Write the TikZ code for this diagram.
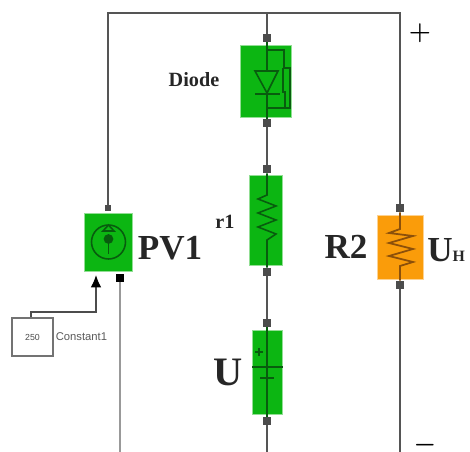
\documentclass[tikz,border=0pt]{standalone}
\usepackage{amsmath}
\usepackage{fontspec}
\setmainfont{Liberation Serif}
\newfontfamily\labelsans{Liberation Sans}
\usetikzlibrary{positioning,arrows.meta}

\definecolor{blockgreen}{RGB}{12,182,18}
\definecolor{blockorange}{RGB}{250,156,10}
\definecolor{edgegreen}{RGB}{8,92,14}
\definecolor{edgeorange}{RGB}{140,80,10}
\definecolor{wiregray}{RGB}{85,85,85}

\tikzset{
  wire/.style={draw=wiregray, line width=0.9pt},
  sigwire/.style={draw=black!70, line width=0.7pt},
  dataline/.style={draw=black!40, line width=1.1pt},
  port/.style={fill=black!70, inner sep=0pt, minimum size=4.5pt},
  greenblock/.style={fill=blockgreen, draw=blockgreen!45, line width=0.8pt, inner sep=0pt},
  orangeblock/.style={fill=blockorange, draw=blockorange!45, line width=0.8pt, inner sep=0pt},
  symb/.style={draw=edgegreen, line width=0.9pt},
  symbo/.style={draw=edgeorange, line width=1pt},
  biglabel/.style={font=\bfseries\fontsize{20}{20}\selectfont, text=black!85, inner sep=0pt},
  smalllabel/.style={font=\bfseries\fontsize{11.5}{12}\selectfont, text=black!85, inner sep=0pt}
}

\begin{document}
\begin{tikzpicture}[x=0.02cm, y=-0.02cm]
\useasboundingbox (0, 0) rectangle (470, 452);

\def\xl{108}
\def\xm{267}
\def\xr{400}
\def\yt{13}
\def\yb{452}

% blocks
\node[greenblock, minimum width=1.02cm, minimum height=1.44cm] (diode) at (266, 81.5) {};
\node[greenblock, minimum width=0.66cm, minimum height=1.8cm] (r1) at (266, 220.5) {};
\node[greenblock, minimum width=0.6cm, minimum height=1.68cm] (u) at (267.5, 372.5) {};
\node[orangeblock, minimum width=0.92cm, minimum height=1.28cm] (r2) at (400.5, 247.5) {};
\node[greenblock, minimum width=0.96cm, minimum height=1.16cm] (pv) at (108.5, 242.5) {};
\node[draw=black!55, line width=0.8pt, minimum width=0.82cm, minimum height=0.76cm, inner sep=0pt,
      font=\labelsans\fontsize{5}{5}\selectfont, text=black!70] (const) at (32.5, 337) {250};

% ports
\node[port] (pa) at (\xm, 38) {};
\node[port] (pb) at (\xm, 123) {};
\node[port] (pc) at (\xm, 169) {};
\node[port] (pd) at (\xm, 272) {};
\node[port] (pe) at (\xm, 323) {};
\node[port] (pf) at (\xm, 421) {};
\node[port] (pg) at (\xr, 208) {};
\node[port] (ph) at (\xr, 285) {};
\node[port, minimum size=3.5pt] (pi) at (\xl, 208) {};
\node[port, fill=black] (pj) at (120, 278) {};

% free ends and corners
\coordinate (tl) at (\xl, \yt);
\coordinate (tm) at (\xm, \yt);
\coordinate (tr) at (\xr, \yt);
\coordinate (bm) at (\xm, \yb);
\coordinate (br) at (\xr, \yb);
\coordinate (bd) at (120, \yb);
\coordinate (ca) at (31, 312);
\coordinate (cb) at (96, 312);
\coordinate (cc) at (96, 275);

% wires
\draw[wire] (pi.north) -- (tl) -- (tr) -- (pg.north);
\draw[wire] (tm) -- (pa);
\draw[wire] (pb) -- (pc);
\draw[wire] (pd) -- (pe);
\draw[wire] (pf) -- (bm);
\draw[wire] (ph) -- (br);
\draw[dataline] (pj) -- (bd);
\draw[sigwire, -{Latex[length=7pt,width=6pt,black]}] (const.north -| ca) -- (ca) -- (cb) -- (cc);

% diode symbol
\coordinate (da) at (\xm, 48);
\coordinate (db) at (\xm, 115);
\draw[symb] (pa) -- (da) -- (\xm, 71);
\draw[symb] (\xm, 93) -- (db) -- (pb);
\draw[symb] (255, 71) -- (278, 71) -- (\xm, 93) -- cycle;
\draw[symb] (255, 94) -- (280, 94);
\draw[symb] (\xm, 50) -- (284, 50) -- (284, 68) -- (290, 68) -- (290, 108) -- (\xm, 108);
\draw[symb] (283, 68) -- (283, 92) -- (285, 92) -- (285, 108);

% r1 symbol
\draw[symb] (pc) -- (\xm, 195) -- (258, 199) -- (276, 206) -- (258, 213) -- (276, 220) -- (258, 227) -- (276, 234) -- (\xm, 240) -- (pd);

% source symbol
\draw[symb] (pe) -- (\xm, 367);
\draw[symb] (252, 367) -- (283, 367);
\draw[symb] (\xm, 367) -- (pf);
\draw[symb] (255, 352) -- (263, 352) (259, 348) -- (259, 356);
\draw[symb] (260, 378) -- (274, 378);

% r2 symbol
\draw[symbo] (pg) -- (\xr, 229) -- (389, 233) -- (413, 236) -- (389, 243) -- (413, 249) -- (389, 256) -- (413, 262) -- (\xr, 266) -- (ph);

% pv symbol
\draw[symb] (108.5, 242) circle (17);
\draw[symb] (108.5, 225) -- (103, 231) -- (114, 231) -- cycle;
\draw[symb, fill=edgegreen] (108.5, 239) circle (4);
\draw[symb] (108.5, 239) -- (108.5, 254);

% labels
\node[smalllabel] (ldiode) at (194, 80) {Diode};
\node[smalllabel] (lr) at (225, 222) {r1};
\node[biglabel] (lpv) at (170, 248) {PV1};
\node[biglabel] (lrtwo) at (346, 247) {R2};
\node[biglabel, anchor=west] (luh) at (427, 250) {U\raisebox{-0.5pt}{\fontsize{9}{9}\selectfont H}};
\node[biglabel, font=\bfseries\fontsize{23}{23}\selectfont] (lu) at (228, 372) {U};
\node[inner sep=0pt, font=\fontsize{14}{14}\selectfont\boldmath] (lplus) at (420, 33) {$+$};
\node[inner sep=0pt, font=\fontsize{14}{14}\selectfont\boldmath] (lminus) at (425, 445) {$-$};
\node[inner sep=0pt, font=\labelsans\fontsize{6.4}{6.4}\selectfont, text=black!65, right=1pt of const] (lconst) {Constant1};

\end{tikzpicture}
\end{document}
